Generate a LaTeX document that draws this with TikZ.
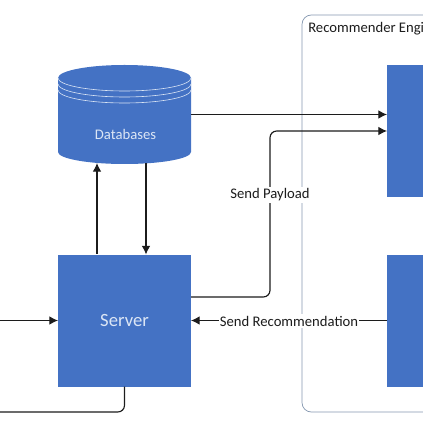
\documentclass[tikz,border=0pt]{standalone}
\usepackage{fontspec}
\setmainfont{Carlito}
\usetikzlibrary{arrows.meta}
\definecolor{boxblue}{HTML}{4472C4}
\definecolor{ink}{HTML}{1C1C1C}
\definecolor{edgeblue}{HTML}{8497B0}
\definecolor{paleblue}{HTML}{DCE6F5}
\tikzset{
  >={Latex[length=6.5pt,width=6.5pt]},
  every node/.style={font=\fontsize{11}{13}\selectfont,text=ink},
  comp/.style={fill=boxblue,minimum width=99.75pt,minimum height=99pt,inner sep=0pt,outer sep=0pt,text=paleblue},
  store/.style={minimum width=99.75pt,minimum height=74.25pt,inner sep=0pt,outer sep=0pt},
  group/.style={draw=edgeblue,rounded corners=7pt,line width=0.55pt,minimum width=240pt,minimum height=297.75pt,inner sep=0pt,outer sep=0pt},
  arrow/.style={->,line width=0.85pt,draw=ink,rounded corners=5pt},
  plain/.style={line width=0.85pt,draw=ink,rounded corners=5pt},
  rim/.style={draw=paleblue,line width=0.45pt},
  labelbox/.style={fill=white,inner xsep=1pt,inner ysep=1.5pt}
}
\begin{document}
\begin{tikzpicture}[x=0.75pt,y=-0.75pt]
  \clip (0,0) rectangle (423,423);

  \node[group] (engine) at (462,213.5) {};
  \node[anchor=west,inner sep=0pt] (enginetitle) at (308,29) {Recommender Engi};

  \fill[boxblue] (58,78) arc (180:360:66.5 and 13)--(191,152) arc (0:180:66.5 and 12)--cycle;
  \node[store] (db) at (124.5,114.5) {};
  \node[text=paleblue,inner sep=0pt] (dbtext) at (125.5,134) {Databases};
  \draw[rim] (58,78) arc (180:0:66.5 and 13);
  \draw[rim] (58,84) arc (180:0:66.5 and 13);
  \draw[rim] (58,90) arc (180:0:66.5 and 13);

  \node[comp,font=\fontsize{14}{16}\selectfont] (server) at (124.5,320.5) {Server};
  \node[comp] (upper) at (453.5,131) {};
  \node[comp] (lower) at (453.5,320.5) {};

  \coordinate (inleft) at (0,320.5);
  \coordinate (outleft) at (0,412);
  \coordinate (dbbottomleft) at (97,163);
  \coordinate (servertopleft) at (97,254);
  \coordinate (dbbottomright) at (146,163);
  \coordinate (serverside) at (191,297);
  \coordinate (upperin) at (387,131);

  \draw[arrow] (inleft)--(inleft-|server.west);
  \draw[plain] (server.south)|-(outleft);
  \draw[arrow] (servertopleft)--(dbbottomleft);
  \draw[arrow] (dbbottomright)--(dbbottomright|-server.north);
  \draw[arrow] (db.east)--(db.east-|upper.west);
  \draw[arrow] (serverside)-|(270,131)--(upperin);
  \draw[arrow] (lower.west)--(server.east|-lower.west);

  \node[labelbox] (payload) at (270,195) {Send Payload};
  \node[labelbox] (recommend) at (289,321) {Send Recommendation};
\end{tikzpicture}
\end{document}
